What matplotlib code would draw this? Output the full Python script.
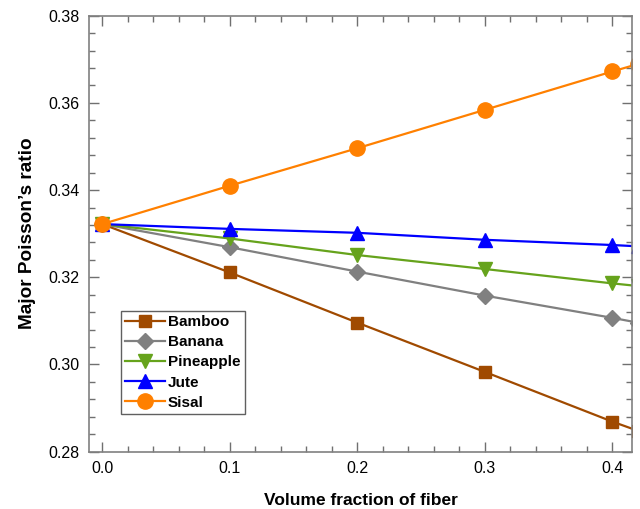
import matplotlib
matplotlib.use("Agg")
import matplotlib.pyplot as plt
from matplotlib.ticker import MultipleLocator, FormatStrFormatter

plt.rcParams["font.family"] = ["Liberation Sans", "DejaVu Sans"]

fraction = [0.0, 0.1, 0.2, 0.3, 0.4, 0.42]
bamboo = [0.3322, 0.3211, 0.3096, 0.2983, 0.2869, 0.2848]
banana = [0.3322, 0.3269, 0.3213, 0.3158, 0.3107, 0.3096]
pineapple = [0.3322, 0.3289, 0.3251, 0.3219, 0.3186, 0.3180]
jute = [0.3322, 0.3311, 0.3302, 0.3286, 0.3274, 0.3271]
sisal = [0.3322, 0.3410, 0.3496, 0.3584, 0.3672, 0.3689]

SERIES = [
    ("Bamboo", bamboo, "#a04a00", "s", 9),
    ("Banana", banana, "#808080", "D", 8.5),
    ("Pineapple", pineapple, "#66a31c", "v", 10.5),
    ("Jute", jute, "#0000ff", "^", 10.5),
    ("Sisal", sisal, "#ff8000", "o", 11),
]

fig = plt.figure(figsize=(6.4, 5.09), dpi=100)
ax = fig.add_axes([0.1395, 0.1126, 0.8485, 0.8566])

for name, vals, color, marker, ms in SERIES:
    ax.plot(fraction, vals, color=color, marker=marker, markersize=ms,
            linewidth=1.6, label=name)

ax.set_xlim(-0.0102, 0.4157)
ax.set_ylim(0.28, 0.38)
ax.xaxis.set_major_locator(MultipleLocator(0.1))
ax.xaxis.set_minor_locator(MultipleLocator(0.02))
ax.yaxis.set_major_locator(MultipleLocator(0.02))
ax.yaxis.set_minor_locator(MultipleLocator(0.004))
ax.xaxis.set_major_formatter(FormatStrFormatter("%.1f"))
ax.yaxis.set_major_formatter(FormatStrFormatter("%.2f"))

ax.tick_params(which="both", direction="in", top=True, right=True,
               color="#707070", labelsize=11.5, width=1)
ax.tick_params(which="major", length=7, pad=7)
ax.tick_params(which="minor", length=4)
for sp in ax.spines.values():
    sp.set_color("#808080")
    sp.set_linewidth(1.2)

ax.set_xlabel("Volume fraction of fiber", fontsize=12.5, fontweight="bold", labelpad=12)
ax.set_ylabel("Major Poisson\u2019s ratio", fontsize=13.7, fontweight="bold", labelpad=9)

leg = ax.legend(loc="upper left", bbox_to_anchor=(0.0578, 0.3234), fancybox=False,
                edgecolor="#606060", framealpha=1, borderpad=0.3, labelspacing=0.4,
                handlelength=2.6, handletextpad=0.2, borderaxespad=0,
                prop={"weight": "bold", "size": 11})
leg.get_frame().set_linewidth(1.0)

fig.savefig("out.png", dpi=100)
